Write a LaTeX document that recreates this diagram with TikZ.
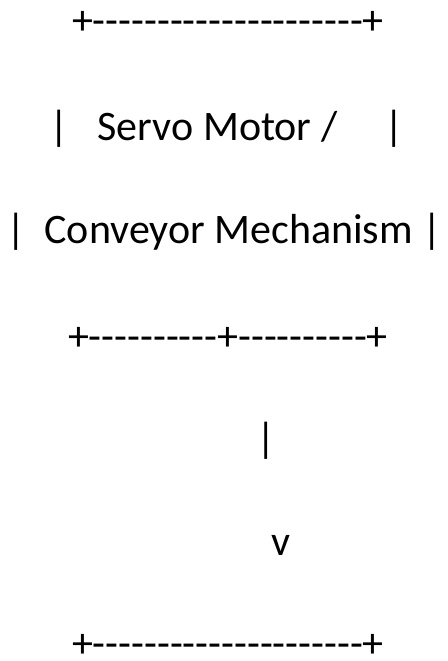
\documentclass[tikz,border=0pt]{standalone}
\usepackage{fontspec}
\setmainfont{Carlito}[Ligatures=TeXOff]
\begin{document}
\begin{tikzpicture}[x=1pt,y=-1pt,
  asciiline/.style={anchor=base,inner sep=0pt,outer sep=0pt,font=\fontsize{42}{50}\selectfont}]
\useasboundingbox[fill=white] (0,0) rectangle (447,661);
\node[asciiline] (top)    at (228,35)  {+---------------------+};
\node[asciiline] (servo)  at (227,140) {|\ \ \ Servo Motor /\ \ \ \ \ |};
\node[asciiline] (conv)   at (224,243) {|\ \ Conveyor Mechanism |};
\node[asciiline] (split)  at (228,350) {+----------+----------+};
\node[asciiline] (stem)   at (266,452) {|};
\node[asciiline] (arrow)  at (281,555) {v};
\node[asciiline] (bottom) at (228,657) {+---------------------+};
\end{tikzpicture}
\end{document}
